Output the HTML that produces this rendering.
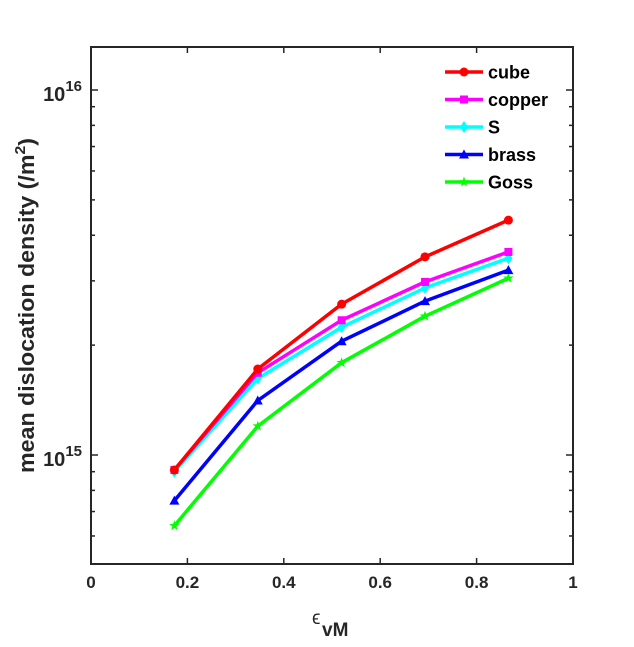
<!DOCTYPE html>
<html><head><meta charset="utf-8"><style>
body{margin:0;background:#fff;}
text{font-family:"Liberation Sans",Arial,sans-serif;}
</style></head><body>
<svg id="chart" width="634" height="642" xmlns="http://www.w3.org/2000/svg">
<rect width="634" height="642" fill="#fff"/>
<g id="marks"></g>
<g id="axes"></g>
</svg>
<script>
const xValues = [0.173, 0.346, 0.52, 0.693, 0.866];
const seriesNames = ["cube", "copper", "S", "brass", "Goss"];
const cubeValues = [9.1e14, 1.72e15, 2.59e15, 3.49e15, 4.40e15];
const copperValues = [9.1e14, 1.68e15, 2.34e15, 2.98e15, 3.60e15];
const sValues = [9.0e14, 1.62e15, 2.24e15, 2.87e15, 3.46e15];
const brassValues = [7.5e14, 1.41e15, 2.05e15, 2.64e15, 3.21e15];
const gossValues = [6.4e14, 1.20e15, 1.79e15, 2.40e15, 3.05e15];
const xTicks = [0, 0.2, 0.4, 0.6, 0.8, 1];
const xTickLabels = ["0", "0.2", "0.4", "0.6", "0.8", "1"];

const NS = "http://www.w3.org/2000/svg";
const L = 91, R = 573, T = 47, B = 564;
const yDec0 = 455, decPx = 365;
function xs(v){ return L + (v - 0) / 1 * (R - L); }
function ys(v){ return yDec0 - (Math.log10(v) - 15) * decPx; }
function mk(tag, attrs, parent){ const e = document.createElementNS(NS, tag); for (const k in attrs) e.setAttribute(k, attrs[k]); parent.appendChild(e); return e; }

const marks = document.getElementById("marks");
const axes = document.getElementById("axes");
const allValues = [cubeValues, copperValues, sValues, brassValues, gossValues];
const colors = ["#ff0000", "#ff00ff", "#00ffff", "#0000ff", "#00ff00"];
const shapes = ["circle", "square", "diamond", "triangle", "star"];

function marker(shape, cx, cy, color, parent){
  let e;
  if (shape === "circle") e = mk("circle", {cx: cx, cy: cy, r: 4.5, fill: color}, parent);
  else if (shape === "square") e = mk("rect", {x: cx-4, y: cy-4, width: 8, height: 8, fill: color}, parent);
  else if (shape === "diamond") e = mk("polygon", {points: `${cx},${cy-6} ${cx+4},${cy} ${cx},${cy+6} ${cx-4},${cy}`, fill: color}, parent);
  else if (shape === "triangle") e = mk("polygon", {points: `${cx},${cy-5} ${cx+5},${cy+4} ${cx-5},${cy+4}`, fill: color}, parent);
  else {
    let p = [];
    for (let i = 0; i < 10; i++){ const a = -Math.PI/2 + i*Math.PI/5; const r = i%2 ? 2.2 : 5.5; p.push((cx + r*Math.cos(a)).toFixed(1) + "," + (cy + r*Math.sin(a)).toFixed(1)); }
    e = mk("polygon", {points: p.join(" "), fill: color}, parent);
  }
  return e;
}

for (let s = allValues.length - 1; s >= 0; s--){
  const g = mk("g", {}, marks);
  
  
  const pts = xValues.map((x, i) => xs(x).toFixed(1) + "," + ys(allValues[s][i]).toFixed(1)).join(" ");
  const ln = mk("polyline", {points: pts, fill: "none", stroke: colors[s], "stroke-width": 3.5, "stroke-linejoin": "round"}, g);
  
  
  xValues.forEach((x, i) => {
    const m = marker(shapes[s], xs(x), ys(allValues[s][i]), colors[s], g);
    
    
  });
}

const box = mk("rect", {x: L, y: T, width: R-L, height: B-T, fill: "none", stroke: "#262626", "stroke-width": 2}, axes);



xTicks.forEach((t, i) => {
  const x = xs(t);
  mk("line", {x1: x, y1: B, x2: x, y2: B-6, stroke: "#262626", "stroke-width": 1.5}, axes);
  mk("line", {x1: x, y1: T, x2: x, y2: T+6, stroke: "#262626", "stroke-width": 1.5}, axes);
  const tx = mk("text", {x: x, y: B+24, "text-anchor": "middle", "font-size": 17, "font-weight": "bold", fill: "#262626"}, axes);
  tx.textContent = xTickLabels[i];
  
  
});

for (let e = 14; e <= 16; e++){
  for (let m = 1; m <= 9; m++){
    const v = m * Math.pow(10, e);
    const y = ys(v);
    if (y < T || y > B) continue;
    const len = m === 1 ? 7 : 4;
    mk("line", {x1: L, y1: y, x2: L+len, y2: y, stroke: "#262626", "stroke-width": 1.5}, axes);
    mk("line", {x1: R, y1: y, x2: R-len, y2: y, stroke: "#262626", "stroke-width": 1.5}, axes);
    if (m === 1){
      const tx = mk("text", {x: L-9, y: y+11, "text-anchor": "end", "font-size": 20, "font-weight": "bold", fill: "#262626"}, axes);
      tx.innerHTML = '10<tspan dy="-10" font-size="15">' + e + '</tspan>';
      
      
    }
  }
}

const xt = mk("text", {x: 322, y: 636, "font-size": 19, "font-weight": "bold", fill: "#262626"}, axes);
xt.textContent = 'vM';


const eps = mk("text", {x: 312, y: 624, "font-size": 19, fill: "#262626"}, axes);
eps.textContent = 'ϵ';



const yt = mk("text", {x: 0, y: 0, transform: "translate(34,473) rotate(-90)", "font-size": 22, "font-weight": "bold", fill: "#262626", textLength: 335, lengthAdjust: "spacingAndGlyphs"}, axes);
yt.innerHTML = 'mean dislocation density (/m<tspan dy="-9" font-size="15">2</tspan><tspan dy="9">)</tspan>';



const lg = mk("g", {}, axes);


seriesNames.forEach((n, i) => {
  const y = 72 + i * 27.5;
  const ent = mk("g", {}, lg);
  
  
  mk("line", {x1: 445, y1: y, x2: 483, y2: y, stroke: colors[i], "stroke-width": 3.5}, ent);
  marker(shapes[i], 464, y, colors[i], ent);
  const t = mk("text", {x: 488, y: y + 6.5, "font-size": 18, "font-weight": "bold", fill: "#000"}, ent);
  t.textContent = n;
});
</script>
</body></html>
